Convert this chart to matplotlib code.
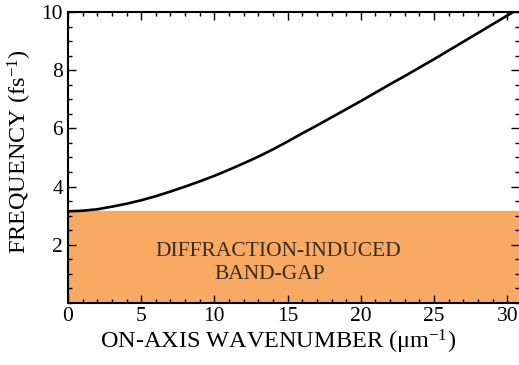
import numpy as np
import matplotlib
matplotlib.use("Agg")
import matplotlib.pyplot as plt
from matplotlib.ticker import MultipleLocator

# values
wavenumber = [0, 1, 2, 3, 4, 5, 6, 7, 8, 9, 10, 11, 12, 13, 14, 15, 16,
              17, 18, 19, 20, 21, 22, 23, 24, 25, 26, 27, 28, 29, 30, 30.4]
frequency = [3.15, 3.17, 3.22, 3.31, 3.41, 3.53, 3.67, 3.83, 4.0, 4.18, 4.37,
             4.58, 4.8, 5.03, 5.28, 5.55, 5.83, 6.1, 6.38, 6.66, 6.94, 7.23,
             7.52, 7.8, 8.09, 8.38, 8.68, 8.98, 9.28, 9.58, 9.88, 10.0]
gap_top = 3.17
gap_text = ["DIFFRACTION-INDUCED", "BAND-GAP"]
x_ticks = [0, 5, 10, 15, 20, 25, 30]
y_ticks = [2, 4, 6, 8, 10]

plt.rcParams['font.family'] = ['Liberation Serif', 'DejaVu Serif']
plt.rcParams['mathtext.fontset'] = 'custom'
plt.rcParams['mathtext.rm'] = 'Liberation Serif'

fig = plt.figure(figsize=(5.19, 3.65), dpi=100)
ax = fig.add_axes([0.131, 0.170, 0.869, 0.797])

ax.axhspan(0, gap_top, color='#F8AA64', zorder=0)
ax.plot(wavenumber, frequency, color='black', lw=1.9, zorder=3)

ax.text(14.35, 1.76, gap_text[0], ha='center', va='center', fontsize=15.5, color='#3b2a1c')
ax.text(13.8, 0.97, gap_text[1], ha='center', va='center', fontsize=15.5, color='#3b2a1c')

ax.set_xlim(0, 30.8)
ax.set_ylim(0, 10)
ax.set_xticks(x_ticks)
ax.set_yticks(y_ticks)
ax.xaxis.set_minor_locator(MultipleLocator(1))
ax.yaxis.set_minor_locator(MultipleLocator(0.5))
ax.tick_params(which='both', direction='in', top=True, right=True, labelsize=15.5, width=1.0)
ax.tick_params(which='major', length=5.5)
ax.tick_params(which='minor', length=3)
ax.tick_params(axis='x', pad=3)

for s in ['left', 'bottom', 'top']:
    ax.spines[s].set_linewidth(1.5)
ax.spines['right'].set_visible(False)

ax.set_xlabel(r'ON-AXIS WAVENUMBER (μm$\mathregular{^{-1}}$)', fontsize=17.5)
ax.set_ylabel(r'FREQUENCY (fs$\mathregular{^{-1}}$)', fontsize=17.5)
ax.xaxis.set_label_coords((278 - 68) / 451, -0.085)
ax.yaxis.set_label_coords(-0.075, 0.52)

fig.savefig('out.png', dpi=100)
